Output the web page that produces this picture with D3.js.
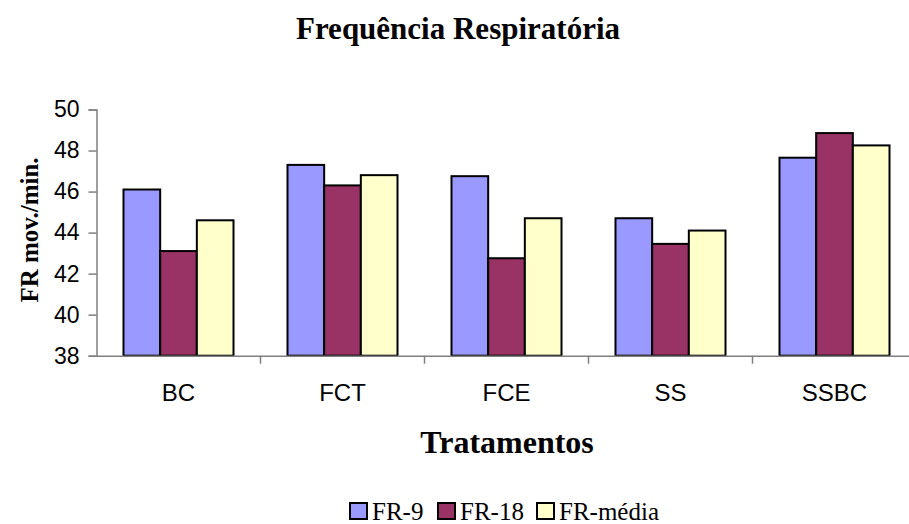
<!DOCTYPE html>
<html>
<head>
<meta charset="utf-8">
<script src="https://cdn.jsdelivr.net/npm/d3@7"></script>
<style>
  body { margin: 0; background: #fff; }
  svg { display: block; }
</style>
</head>
<body>
<div id="chart"></div>
<script>
var categories = ["BC", "FCT", "FCE", "SS", "SSBC"];
var seriesNames = ["FR-9", "FR-18", "FR-média"];
var fr9 = [46.1, 47.3, 46.75, 44.7, 47.65];
var fr18 = [43.1, 46.3, 42.75, 43.45, 48.85];
var frMedia = [44.6, 46.8, 44.7, 44.1, 48.25];
var yTicks = [38, 40, 42, 44, 46, 48, 50];
var colors = ["#9999FF", "#993366", "#FFFFCC"];

var width = 909, height = 524;
var serif = "'Liberation Serif', 'Times New Roman', serif";
var sans = "'Liberation Sans', Arial, sans-serif";

var svg = d3.select("#chart").append("svg")
    .attr("width", width)
    .attr("height", height);

var x0 = d3.scaleBand()
    .domain(categories)
    .range([96.5, 916.5]);

var x1 = d3.scaleBand()
    .domain(seriesNames)
    .range([27, 137]);

var y = d3.scaleLinear()
    .domain([38, 50])
    .range([355.7, 109.5]);

var series = [fr9, fr18, frMedia];
var rows = [];
categories.forEach(function (c, i) {
    seriesNames.forEach(function (s, j) {
        rows.push({ cat: c, name: s, value: series[j][i], color: colors[j] });
    });
});

// bars
svg.append("g")
    .selectAll("rect")
    .data(rows)
    .enter().append("rect")
    .attr("x", function (d) { return x0(d.cat) + x1(d.name); })
    .attr("y", function (d) { return y(d.value); })
    .attr("width", x1.bandwidth())
    .attr("height", function (d) { return y(38) - y(d.value); })
    .attr("fill", function (d) { return d.color; })
    .attr("stroke", "#000")
    .attr("stroke-width", 2);

// y axis
var yAxis = svg.append("g")
    .attr("transform", "translate(" + 96.5 + ",0)")
    .call(d3.axisLeft(y).tickValues(yTicks).tickSize(8).tickPadding(9).tickFormat(d3.format("d")));
yAxis.select(".domain").attr("stroke", "#808080").attr("stroke-width", 1.5);
yAxis.selectAll(".tick line").attr("stroke", "#808080").attr("stroke-width", 1.5);
yAxis.selectAll(".tick text")
    .attr("font-family", sans)
    .attr("font-size", "23px")
    .attr("fill", "#000");

// x axis
var xAxis = svg.append("g")
    .attr("transform", "translate(0," + y(38) + ")")
    .call(d3.axisBottom(x0).tickSize(0).tickPadding(28));
xAxis.select(".domain").attr("stroke", "#808080").attr("stroke-width", 1.5);
xAxis.selectAll(".tick text")
    .attr("font-family", sans)
    .attr("font-size", "24px")
    .attr("fill", "#000");

// category separators
svg.append("g")
    .selectAll("line")
    .data(categories.slice(1))
    .enter().append("line")
    .attr("x1", function (d) { return x0(d); })
    .attr("x2", function (d) { return x0(d); })
    .attr("y1", y(38))
    .attr("y2", y(38) + 8)
    .attr("stroke", "#808080")
    .attr("stroke-width", 1.5);

// title
svg.append("text")
    .attr("x", 458)
    .attr("y", 39)
    .attr("text-anchor", "middle")
    .attr("font-family", serif)
    .attr("font-weight", "bold")
    .attr("font-size", "31px")
    .text("Frequência Respiratória");

// axis titles
svg.append("text")
    .attr("x", 507)
    .attr("y", 453)
    .attr("text-anchor", "middle")
    .attr("font-family", serif)
    .attr("font-weight", "bold")
    .attr("font-size", "32px")
    .text("Tratamentos");

svg.append("text")
    .attr("transform", "translate(38,230) rotate(-90)")
    .attr("text-anchor", "middle")
    .attr("font-family", serif)
    .attr("font-weight", "bold")
    .attr("font-size", "25px")
    .text("FR mov./min.");

// legend
var legendX = [350, 438, 537];
var legend = svg.append("g")
    .selectAll("g")
    .data(seriesNames)
    .enter().append("g")
    .attr("transform", function (d, i) { return "translate(" + legendX[i] + ",503)"; });

legend.append("rect")
    .attr("width", 17)
    .attr("height", 16)
    .attr("fill", function (d, i) { return colors[i]; })
    .attr("stroke", "#000")
    .attr("stroke-width", 2);

legend.append("text")
    .attr("x", 22)
    .attr("y", 16.5)
    .attr("font-family", serif)
    .attr("font-size", "25px")
    .text(function (d) { return d; });
</script>
</body>
</html>
